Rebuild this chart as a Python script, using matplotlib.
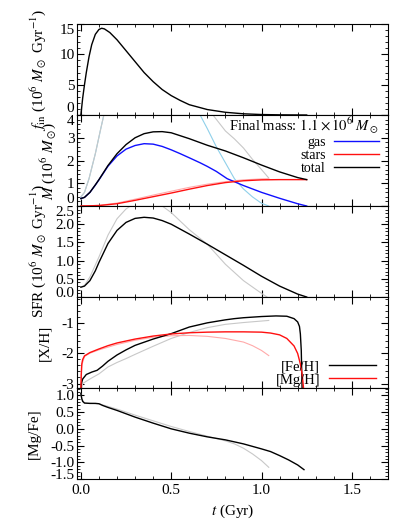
import numpy as np
import matplotlib.pyplot as plt
from matplotlib.ticker import MultipleLocator

plt.rcParams['font.family'] = ['Liberation Serif', 'DejaVu Serif']
plt.rcParams['mathtext.fontset'] = 'stix'
plt.rcParams['font.size'] = 11
plt.rcParams['xtick.direction'] = 'in'
plt.rcParams['ytick.direction'] = 'in'
plt.rcParams['xtick.top'] = True
plt.rcParams['ytick.right'] = True

# ---- infall rate (10^6 Msun/Gyr)
t_in = [0, 0.01, 0.02, 0.03, 0.045, 0.06, 0.08, 0.10, 0.115, 0.13, 0.16, 0.2, 0.25,
        0.3, 0.35, 0.4, 0.45, 0.5, 0.55, 0.6, 0.7, 0.8, 0.9, 1.0, 1.1, 1.25]
f_in = [0, 2.8, 5.0, 7.0, 9.6, 11.6, 13.3, 14.1, 14.3, 14.2, 13.6, 12.4, 10.6,
        8.8, 7.0, 5.5, 4.2, 3.2, 2.4, 1.7, 0.9, 0.45, 0.2, 0.08, 0.03, 0.0]

# ---- masses (10^6 Msun)
t_gas = [0, 0.02, 0.05, 0.08, 0.1, 0.125, 0.15, 0.2, 0.25, 0.3, 0.35, 0.4, 0.45, 0.5,
         0.55, 0.6, 0.66, 0.7, 0.75, 0.81, 0.9, 1.0, 1.1, 1.2, 1.25]
m_gas = [0.33, 0.38, 0.6, 0.92, 1.15, 1.45, 1.75, 2.2, 2.5, 2.66, 2.74, 2.72, 2.62, 2.47,
         2.3, 2.12, 1.9, 1.74, 1.52, 1.2, 0.9, 0.6, 0.34, 0.1, 0.0]
t_tot = [0, 0.02, 0.05, 0.08, 0.1, 0.125, 0.15, 0.2, 0.25, 0.3, 0.35, 0.4, 0.45, 0.5,
         0.6, 0.7, 0.8, 0.9, 1.0, 1.1, 1.2, 1.25]
m_tot = [0.33, 0.38, 0.6, 0.93, 1.16, 1.47, 1.78, 2.3, 2.7, 3.0, 3.18, 3.26, 3.27, 3.22,
         2.96, 2.67, 2.42, 2.12, 1.8, 1.5, 1.25, 1.16]
t_star = [0, 0.1, 0.2, 0.3, 0.4, 0.5, 0.6, 0.7, 0.8, 0.9, 1.0, 1.1, 1.25]
m_star = [0, 0.02, 0.1, 0.25, 0.41, 0.57, 0.74, 0.9, 1.03, 1.11, 1.15, 1.16, 1.16]

# comparison model (thin lines)
t_gas2 = [0, 0.02, 0.045, 0.08, 0.11, 0.13, 0.2, 0.4, 0.6, 0.66, 0.7, 0.75, 0.8,
          0.85, 0.9, 0.95, 1.0, 1.04]
m_gas2 = [0.4, 0.6, 1.2, 2.3, 3.4, 4.1, 5.5, 6.5, 5.0, 4.0, 3.4, 2.6, 1.9,
          1.2, 0.75, 0.4, 0.12, 0.0]
t_tot2 = [0, 0.02, 0.045, 0.08, 0.11, 0.13, 0.2, 0.4, 0.6, 0.735, 0.8, 0.85, 0.9, 0.95, 1.0, 1.04]
m_tot2 = [0.4, 0.6, 1.2, 2.3, 3.4, 4.1, 5.6, 6.8, 5.5, 3.96, 3.3, 2.95, 2.55, 2.05, 1.6, 1.23]
t_star2 = [0, 0.1, 0.2, 0.3, 0.4, 0.5, 0.6, 0.7, 0.8, 0.9, 1.0, 1.04]
m_star2 = [0, 0.03, 0.13, 0.3, 0.48, 0.65, 0.82, 0.96, 1.07, 1.15, 1.19, 1.2]

# ---- star formation rate
t_sfr = [0, 0.02, 0.05, 0.08, 0.1, 0.15, 0.2, 0.25, 0.3, 0.35, 0.4, 0.45, 0.5,
         0.6, 0.7, 0.8, 0.9, 1.0, 1.1, 1.2, 1.25]
sfr = [0.27, 0.3, 0.45, 0.72, 0.95, 1.47, 1.83, 2.05, 2.16, 2.19, 2.17, 2.1, 2.0,
       1.73, 1.45, 1.16, 0.87, 0.57, 0.3, 0.08, 0.0]
t_sfr2 = [0, 0.02, 0.05, 0.1, 0.15, 0.2, 0.25, 0.3, 0.37, 0.45, 0.5, 0.6, 0.7, 0.8, 0.9, 1.0, 1.03]
sfr2 = [0.27, 0.32, 0.55, 1.1, 1.7, 2.15, 2.42, 2.58, 2.65, 2.5, 2.32, 1.85, 1.45, 0.9, 0.45, 0.1, 0.0]

# ---- abundances
t_fe = [0.0, 0.003, 0.01, 0.03, 0.06, 0.09, 0.12, 0.15, 0.2, 0.25, 0.3, 0.4, 0.5,
        0.6, 0.7, 0.8, 0.85, 0.9, 1.0, 1.08, 1.14, 1.18, 1.2, 1.21, 1.215, 1.22, 1.225]
feh = [-3.3, -3.0, -2.85, -2.7, -2.62, -2.56, -2.42, -2.26, -2.05, -1.88, -1.73, -1.52, -1.34,
       -1.12, -0.98, -0.88, -0.84, -0.81, -0.77, -0.75, -0.76, -0.84, -0.95, -1.1, -1.35, -1.9, -3.3]
t_mg = [0.0, 0.002, 0.005, 0.01, 0.02, 0.05, 0.1, 0.15, 0.2, 0.3, 0.4, 0.5, 0.6, 0.7,
        0.8, 0.9, 1.0, 1.05, 1.1, 1.14, 1.18, 1.2, 1.215, 1.225, 1.235]
mgh = [-3.3, -2.7, -2.35, -2.2, -2.08, -1.97, -1.85, -1.74, -1.65, -1.52, -1.42, -1.35, -1.31, -1.29,
       -1.28, -1.28, -1.29, -1.32, -1.38, -1.5, -1.75, -2.0, -2.35, -2.7, -3.3]
t_fe2 = [0.0, 0.01, 0.05, 0.1, 0.15, 0.2, 0.25, 0.3, 0.4, 0.5, 0.6, 0.7, 0.8, 0.9, 1.0, 1.04]
feh2 = [-3.3, -3.0, -2.85, -2.68, -2.45, -2.3, -2.17, -2.03, -1.76, -1.5, -1.3, -1.14, -1.03,
        -0.97, -0.92, -0.9]
t_mg2 = [0.0, 0.005, 0.02, 0.05, 0.1, 0.2, 0.3, 0.4, 0.5, 0.6, 0.7, 0.8, 0.9, 0.95, 1.0, 1.04]
mgh2 = [-3.3, -2.4, -2.1, -1.99, -1.88, -1.7, -1.56, -1.46, -1.41, -1.4, -1.43, -1.5, -1.62,
        -1.74, -1.9, -2.07]

t_mgfe = [0.0, 0.005, 0.01, 0.02, 0.05, 0.08, 0.1, 0.12, 0.15, 0.2, 0.25, 0.3, 0.4, 0.5,
          0.6, 0.7, 0.8, 0.9, 1.0, 1.05, 1.1, 1.15, 1.2, 1.235]
mgfe = [1.05, 0.9, 0.82, 0.77, 0.76, 0.76, 0.75, 0.7, 0.64, 0.55, 0.45, 0.35, 0.17, 0.0,
        -0.13, -0.24, -0.33, -0.45, -0.6, -0.68, -0.8, -0.93, -1.08, -1.22]
t_mgfe2 = [0.0, 0.005, 0.02, 0.1, 0.15, 0.2, 0.3, 0.4, 0.5, 0.6, 0.7, 0.8, 0.85, 0.9, 0.95, 1.0, 1.04]
mgfe2 = [1.05, 0.9, 0.77, 0.75, 0.67, 0.59, 0.41, 0.24, 0.07, -0.08, -0.22, -0.36, -0.45,
         -0.58, -0.75, -0.95, -1.15]

c_gas2 = '#8fd0ea'
c_grey = '#c8c8c8'
c_red2 = '#ffaaaa'

fig = plt.figure(figsize=(4.11, 5.29), dpi=100)
gs = fig.add_gridspec(5, 1, left=0.188, right=0.944, bottom=0.0945, top=0.9546, hspace=0)
axs = [fig.add_subplot(gs[i]) for i in range(5)]

ax = axs[0]
ax.plot(t_in, f_in, color='k', lw=1.0)
ax.set_ylim(0, 15)
ax.set_yticks([0, 5, 10, 15])
ax.yaxis.set_minor_locator(MultipleLocator(1))
ax.set_ylabel(r'$f_{\rm in}$ (10$^6$ $M_\odot$ Gyr$^{-1}$)')

ax = axs[1]
ax.plot(t_gas2, m_gas2, color=c_gas2, lw=0.8)
ax.plot(t_tot2, m_tot2, color=c_grey, lw=0.8)
ax.plot(t_star2, m_star2, color=c_red2, lw=0.8)
ax.plot(t_gas, m_gas, color='#1010ff', lw=1.0, label='gas')
ax.plot(t_star, m_star, color='#ff1010', lw=1.0, label='stars')
ax.plot(t_tot, m_tot, color='k', lw=1.0, label='total')
ax.set_ylim(0, 4)
ax.set_yticks([0, 1, 2, 3, 4])
ax.yaxis.set_minor_locator(MultipleLocator(0.2))
ax.set_ylabel(r'$M$ (10$^6$ $M_\odot$)')
ax.legend(loc='upper right', bbox_to_anchor=(0.975, 1.01),
          title=r'Final mass: $1.1\times10^6\ M_\odot$', markerfirst=False,
          frameon=False, alignment='right', handlelength=3.2, handletextpad=0.6,
          labelspacing=0.0, borderaxespad=0.0, borderpad=0.1, title_fontsize=10.5, fontsize=10)

ax = axs[2]
ax.plot(t_sfr2, sfr2, color=c_grey, lw=0.8)
ax.plot(t_sfr, sfr, color='k', lw=1.0)
ax.set_ylim(0, 2.5)
ax.set_yticks([0, 0.5, 1.0, 1.5, 2.0, 2.5])
ax.set_yticklabels(['0.0', '0.5', '1.0', '1.5', '2.0', '2.5'])
ax.yaxis.set_minor_locator(MultipleLocator(0.1))
ax.set_ylabel(r'SFR (10$^6$ $M_\odot$ Gyr$^{-1}$)')

ax = axs[3]
ax.plot(t_fe2, feh2, color=c_grey, lw=0.8)
ax.plot(t_mg2, mgh2, color=c_red2, lw=0.8)
ax.plot(t_fe, feh, color='k', lw=1.0, label='[Fe/H]')
ax.plot(t_mg, mgh, color='#ff1010', lw=1.0, label='[Mg/H]')
ax.set_ylim(-3.15, -0.12)
ax.set_yticks([-3, -2, -1])
ax.set_yticklabels(['-3', '-2', '-1'])
ax.yaxis.set_minor_locator(MultipleLocator(0.2))
ax.set_ylabel('[X/H]')
ax.legend(loc='lower right', bbox_to_anchor=(0.965, 0.0), markerfirst=False, frameon=False,
          handlelength=3.2, handletextpad=0.6, labelspacing=0.0, borderaxespad=0.0,
          borderpad=0.1, fontsize=10.5)

ax = axs[4]
ax.plot(t_mgfe2, mgfe2, color=c_grey, lw=0.8)
ax.plot(t_mgfe, mgfe, color='k', lw=1.0)
ax.set_ylim(-1.5, 1.22)
ax.set_yticks([-1.5, -1.0, -0.5, 0.0, 0.5, 1.0])
ax.set_yticklabels(['-1.5', '-1.0', '-0.5', '0.0', '0.5', '1.0'])
ax.yaxis.set_minor_locator(MultipleLocator(0.1))
ax.set_ylabel('[Mg/Fe]')
ax.set_xlabel(r'$t$ (Gyr)')

# y-label positions (pixel x of the label's right edge)
label_x = [48, 58, 48, 51, 41]
bottom_va = ['bottom', 'bottom', 'baseline', 'center', 'baseline']

for i, ax in enumerate(axs):
    ax.set_xlim(-0.02, 1.70)
    ax.set_xticks([0.0, 0.5, 1.0, 1.5])
    ax.xaxis.set_minor_locator(MultipleLocator(0.1))
    ax.tick_params(which='major', length=5, width=0.8)
    ax.tick_params(which='minor', length=2.5, width=0.6)
    ax.tick_params(axis='y', pad=2)
    ax.yaxis.set_label_coords((label_x[i] - 77.3) / 310.7, 0.5)
    if i < 4:
        ax.tick_params(labelbottom=False)
    else:
        ax.set_xticklabels(['0.0', '0.5', '1.0', '1.5'])
    # keep edge labels inside the panel, like the original
    ticks = ax.yaxis.get_major_ticks()
    lo, hi = ax.get_ylim()
    locs = ax.get_yticks()
    if abs(locs[0] - lo) < 1e-6:
        ticks[0].label1.set_verticalalignment(bottom_va[i])
    if abs(locs[-1] - hi) < 1e-6:
        ticks[-1].label1.set_verticalalignment('top')

fig.savefig('out.png', dpi=100)
